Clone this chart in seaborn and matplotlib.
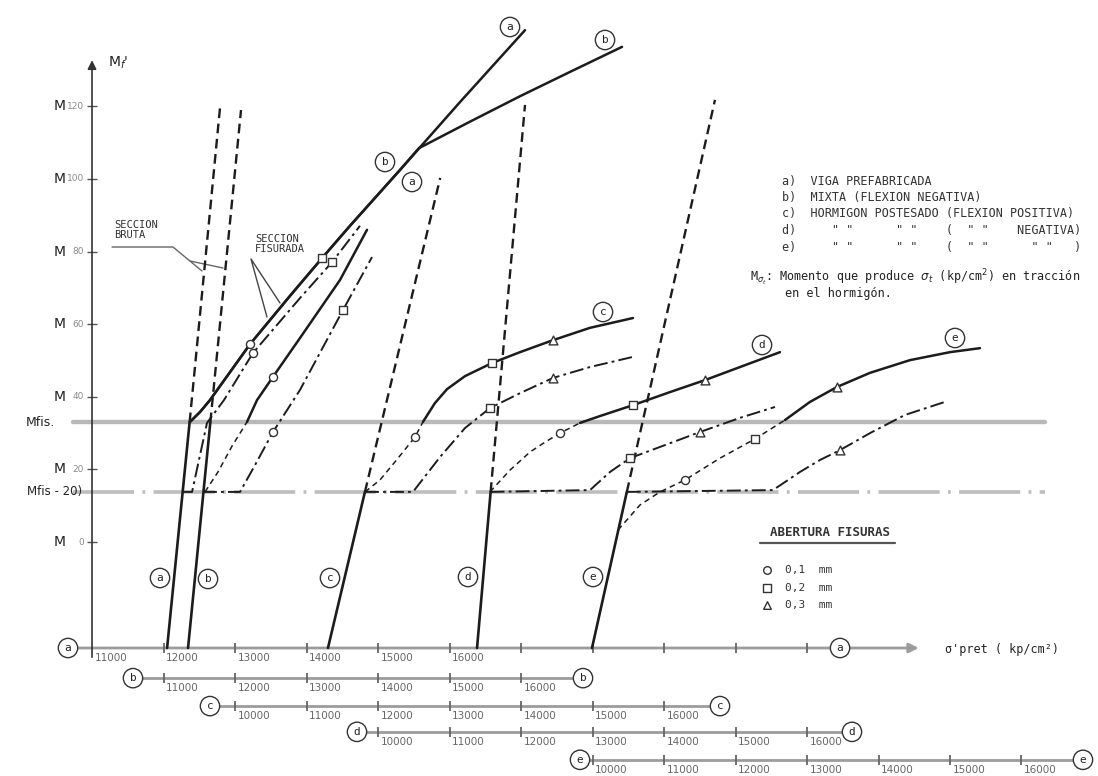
import numpy as np
import matplotlib
matplotlib.use("Agg")
import matplotlib.pyplot as plt
import seaborn as sns

sns.set_theme(style="white")
plt.rcParams["font.family"] = ["DejaVu Sans"]
plt.rcParams["lines.scale_dashes"] = False

# ---------------------------------------------------------------- data
# cracking-moment levels (units of M)
M_FIS = 33.0
M_FIS_20 = 13.8

# every beam type is read on its own prestress scale, shifted against scale a
SCALE_SHIFT = {"a": 0, "b": 1000, "c": 3000, "d": 5000, "e": 8000}
SCALE_ROW = {"a": -29.2, "b": -37.5, "c": -45.2, "d": -52.3, "e": -60.0}
SCALE_TICKS = {
    "a": [12000, 13000, 14000, 15000, 16000, 17000, 18000, 19000, 20000, 21000],
    "b": [11000, 12000, 13000, 14000, 15000, 16000],
    "c": [10000, 11000, 12000, 13000, 14000, 15000, 16000],
    "d": [10000, 11000, 12000, 13000, 14000, 15000, 16000],
    "e": [10000, 11000, 12000, 13000, 14000, 15000, 16000],
}
SCALE_LABELS = {
    "a": [11000, 12000, 13000, 14000, 15000, 16000],
    "b": [11000, 12000, 13000, 14000, 15000, 16000],
    "c": [10000, 11000, 12000, 13000, 14000, 15000, 16000],
    "d": [10000, 11000, 12000, 13000, 14000, 15000, 16000],
    "e": [10000, 11000, 12000, 13000, 14000, 15000, 16000],
}
SCALE_ENDS = {"a": (10664, 21462), "b": (10573, 16867), "c": (9650, 16783),
              "d": (9706, 16629), "e": (9825, 16860)}

M_TICKS = [120, 100, 80, 60, 40, 20, 0]

# uncracked (gross section) lines: start, cracking point, top
A_BRUTA_S = [12050, 12365, 12790]
A_BRUTA_M = [-29.2, 33.0, 119.6]
B_BRUTA_S = [11343, 11655, 12084]
B_BRUTA_M = [-29.2, 33.0, 119.0]
C_BRUTA_S = [11300, 11817, 12870]
C_BRUTA_M = [-29.2, 13.8, 100.3]
D_BRUTA_S = [11385, 11575, 12056]
D_BRUTA_M = [-29.2, 13.8, 120.4]
E_BRUTA_S = [9993, 10480, 11713]
E_BRUTA_M = [-29.2, 13.8, 121.8]

# cracked section after M_fis (solid)
A_FIS_S = [12371, 12510, 12650, 12930, 13210, 13769, 14217, 14608, 15308, 16147, 17056]
A_FIS_M = [33.1, 35.8, 39.1, 46.8, 54.5, 67.8, 78.2, 87.1, 102.5, 121.2, 141.0]
B_FIS_S = [11371, 11510, 11650, 11930, 12210, 12769, 13217, 13608, 14308, 14573, 15287,
           15986, 16685, 17413]
B_FIS_M = [33.1, 35.8, 39.1, 46.8, 54.5, 67.8, 78.2, 87.1, 102.5, 108.5, 115.8,
           122.8, 129.5, 136.4]
# cracked section after M_fis - 20 (dash-dot), with the jump at cracking
A_DD_S = [12259, 12399, 12608, 12846, 13252, 13909, 14357, 14748]
A_DD_M = [13.8, 13.8, 32.8, 39.1, 52.1, 67.2, 77.1, 87.1]
B_LEAD_S = [11580, 11762, 11958, 12168]
B_LEAD_M = [13.8, 19.3, 26.4, 33.1]
B_FIS20_S = [12168, 12308, 12531, 12909, 13469, 13846]
B_FIS20_M = [33.1, 39.1, 45.5, 56.2, 72.2, 86.0]
B_DD_S = [11552, 12070, 12280, 12531, 12909, 13510, 13916]
B_DD_M = [13.8, 13.8, 21.2, 30.3, 41.9, 63.9, 78.5]

C_LEAD_S = [11818, 12028, 12280, 12517, 12629]
C_LEAD_M = [13.8, 17.1, 23.1, 28.9, 33.1]
C_FIS_S = [12629, 12797, 12965, 13217, 13594, 13986, 14447, 14965, 15566]
C_FIS_M = [33.1, 38.3, 42.1, 45.7, 49.3, 52.3, 55.6, 59.0, 61.7]
C_DD_S = [11818, 12489, 12867, 13217, 13566, 13986, 14447, 14965, 15566]
C_DD_M = [13.8, 13.8, 23.4, 31.4, 36.9, 41.0, 45.2, 48.2, 51.0]

D_LEAD_S = [11566, 11846, 12126, 12336, 12545, 12825]
D_LEAD_M = [13.8, 19.8, 24.8, 27.5, 30.0, 32.8]
D_FIS_S = [12825, 13105, 13566, 14084, 14573, 15063, 15622]
D_FIS_M = [32.8, 34.7, 37.7, 41.3, 44.6, 48.2, 52.3]
D_DD_S = [11575, 12965, 13245, 13524, 14014, 14503, 15063, 15552]
D_DD_M = [13.8, 14.3, 19.3, 23.1, 26.7, 30.3, 34.2, 37.2]

E_LEAD_S = [10357, 10664, 10944, 11294, 11783, 12273, 12692]
E_LEAD_M = [3.3, 10.2, 13.8, 17.1, 23.1, 28.4, 33.6]
E_FIS_S = [12692, 13042, 13419, 13881, 14440, 15000, 15419]
E_FIS_M = [33.6, 38.6, 42.7, 46.6, 50.1, 52.3, 53.4]
E_DD_S = [10480, 12524, 12902, 13182, 13461, 13881, 14370, 14930]
E_DD_M = [13.8, 14.3, 19.3, 22.6, 25.3, 30.0, 35.0, 38.6]

# crack-width marks: (scale, sigma, M)
CRACK_01 = [("a", 13210, 54.5), ("a", 13252, 52.1), ("b", 12531, 45.5), ("b", 12531, 30.3),
            ("c", 12517, 28.9), ("d", 12545, 30.0), ("e", 11294, 17.1)]
CRACK_02 = [("a", 14217, 78.2), ("a", 14357, 77.1), ("b", 13510, 63.9), ("c", 13594, 49.3),
            ("c", 13566, 36.9), ("d", 13566, 37.7), ("d", 13524, 23.1), ("e", 12273, 28.4)]
CRACK_03 = [("c", 14447, 55.6), ("c", 14447, 45.2), ("d", 14573, 44.6), ("d", 14503, 30.3),
            ("e", 13419, 42.7), ("e", 13461, 25.3)]

LEYENDA = ["a)  VIGA PREFABRICADA",
           "b)  MIXTA (FLEXION NEGATIVA)",
           "c)  HORMIGON POSTESADO (FLEXION POSITIVA)"]
ABERTURAS = ["0,1  mm", "0,2  mm", "0,3  mm"]

# ---------------------------------------------------------------- figure
W, H = 1098, 776
fig = plt.figure(figsize=(W / 100, H / 100), dpi=100)
ax = fig.add_axes([0, 0, 1, 1])
ax.set_xlim(9713, 25070)
ax.set_ylim(-64.46, 149.31)
ax.axis("off")

INK = "#1c1c1c"
GREY = "#9c9c9c"
MONO = "DejaVu Sans Mono"


def P(x, y):
    """Image-pixel position (origin top left) as axes fraction."""
    return x / W, 1 - y / H


def curve(s, m, key, ls="-", lw=1.6, color=INK, z=4):
    sns.lineplot(x=np.asarray(s, float) + SCALE_SHIFT[key], y=m, sort=False,
                 estimator=None, ax=ax, color=color, linewidth=lw,
                 linestyle=ls, legend=False, zorder=z)


def circ(x, y, s, size=8):
    ax.text(*P(x, y), s, transform=ax.transAxes, ha="center", va="center",
            fontsize=size, color="#222", family=MONO, zorder=8,
            bbox=dict(boxstyle="circle,pad=0.42", fc="white", ec="#333", lw=1.0))


DASH = (0, (7, 4))
DASHDOT = (0, (10, 3, 2, 3))
LEAD = (0, (4, 3))

# reference moment lines
ax.axhline(M_FIS, xmin=73 / W, xmax=1045 / W, color="#b9b9b9", lw=3.2, zorder=1)
ax.axhline(M_FIS_20, xmin=73 / W, xmax=1045 / W, color="#bdbdbd", lw=2.6,
           linestyle=(0, (44, 6, 2, 6)), zorder=1)

# moment axis
ax.annotate("", xy=(11000, 133.5), xytext=(11000, -32.5),
            arrowprops=dict(arrowstyle="-|>", color="#333", lw=1.2, mutation_scale=13))
ax.plot([11000] * len(M_TICKS), M_TICKS, ls="none", marker="_", ms=7, mew=1.0, color="#555")
for m in M_TICKS:
    ax.annotate("M", xy=(66 / W, m), xycoords=("axes fraction", "data"), ha="right",
                va="center", fontsize=10, color="#222")
    ax.annotate(f"{m}", xy=(84 / W, m), xycoords=("axes fraction", "data"), ha="right",
                va="center", fontsize=6.5, color="#8a8a8a")
ax.annotate("Mfis.", xy=(55 / W, M_FIS), xycoords=("axes fraction", "data"), ha="right",
            va="center", fontsize=9, color="#222")
ax.annotate("Mfis - 20)", xy=(82 / W, M_FIS_20), xycoords=("axes fraction", "data"),
            ha="right", va="center", fontsize=8.5, color="#222")
ax.text(*P(108, 63), r"M$_{f}$'", transform=ax.transAxes, ha="left", va="center",
        fontsize=10, color="#222")

# prestress scales
for key in "abcde":
    row, sh = SCALE_ROW[key], SCALE_SHIFT[key]
    lo, hi = SCALE_ENDS[key]
    if key == "a":
        ax.annotate("", xy=(22600, row), xytext=(lo, row),
                    arrowprops=dict(arrowstyle="-|>", color=GREY, lw=2.0, mutation_scale=14),
                    zorder=1)
    else:
        ax.plot([lo + sh, hi + sh], [row, row], color=GREY, lw=2.0, zorder=1)
    t = np.asarray(SCALE_TICKS[key]) + sh
    ax.plot(t, [row] * len(t), ls="none", marker="|", ms=7, mew=1.3, color="#666", zorder=2)
    for v in SCALE_LABELS[key]:
        ax.annotate(f"{v}", (v + sh, row), xytext=(2, -3.5), textcoords="offset points",
                    ha="left", va="top", fontsize=7.5, color="#666")
    for s in (lo, hi):
        xf = ax.transAxes.inverted().transform(ax.transData.transform((s + sh, row)))
        ax.text(xf[0], xf[1], key, transform=ax.transAxes, ha="center", va="center",
                fontsize=8, color="#222", family=MONO, zorder=8,
                bbox=dict(boxstyle="circle,pad=0.42", fc="white", ec="#333", lw=1.0))
ax.text(*P(945, 650), "σ'pret ( kp/cm²)", transform=ax.transAxes, ha="left", va="center",
        fontsize=8.5, color="#222", family=MONO)

# gross-section lines: solid up to the cracking point, dashed above
for key, s, m in (("a", A_BRUTA_S, A_BRUTA_M), ("b", B_BRUTA_S, B_BRUTA_M),
                  ("c", C_BRUTA_S, C_BRUTA_M), ("d", D_BRUTA_S, D_BRUTA_M),
                  ("e", E_BRUTA_S, E_BRUTA_M)):
    curve(s[:2], m[:2], key, lw=1.9)
    curve(s[1:], m[1:], key, ls=DASH, lw=1.7)

# cracked-section curves
curve(A_FIS_S, A_FIS_M, "a", lw=1.8)
curve(B_FIS_S, B_FIS_M, "b", lw=1.8)
curve(A_DD_S, A_DD_M, "a", ls=DASHDOT, lw=1.4)
for key, ls_, ms_, fs_, fm_, ds_, dm_ in (
        ("b", B_LEAD_S, B_LEAD_M, B_FIS20_S, B_FIS20_M, B_DD_S, B_DD_M),
        ("c", C_LEAD_S, C_LEAD_M, C_FIS_S, C_FIS_M, C_DD_S, C_DD_M),
        ("d", D_LEAD_S, D_LEAD_M, D_FIS_S, D_FIS_M, D_DD_S, D_DD_M),
        ("e", E_LEAD_S, E_LEAD_M, E_FIS_S, E_FIS_M, E_DD_S, E_DD_M)):
    curve(ls_, ms_, key, ls=LEAD, lw=1.1)
    curve(fs_, fm_, key, lw=1.8)
    curve(ds_, dm_, key, ls=DASHDOT, lw=1.4)

# crack-width marks
for marks, mk, sz in ((CRACK_01, "o", 34), (CRACK_02, "s", 34), (CRACK_03, "^", 40)):
    xs = [s + SCALE_SHIFT[k] for k, s, _ in marks]
    ys = [m for _, _, m in marks]
    sns.scatterplot(x=xs, y=ys, marker=mk, s=sz, facecolor="white", edgecolor="#333",
                    linewidth=1.0, ax=ax, zorder=6, legend=False)

# curve tags
for x, y, s in ((160, 578, "a"), (208, 579, "b"), (330, 578, "c"), (468, 577, "d"),
                (593, 577, "e"), (510, 27, "a"), (605, 40, "b"), (385, 162, "b"),
                (412, 182, "a"), (603, 312, "c"), (762, 345, "d"), (955, 338, "e")):
    circ(x, y, s)

# section call-outs
ax.text(*P(114, 230), "SECCION\nBRUTA", transform=ax.transAxes, ha="left", va="center",
        fontsize=7.5, color="#333", family=MONO, linespacing=1.05)
ax.plot(*zip(P(112, 247), P(173, 247), P(202, 271)), transform=ax.transAxes, color="#666", lw=1.0)
ax.plot(*zip(P(190, 261), P(223, 268)), transform=ax.transAxes, color="#666", lw=1.0)
ax.text(*P(255, 244), "SECCION\nFISURADA", transform=ax.transAxes, ha="left", va="center",
        fontsize=7.5, color="#333", family=MONO, linespacing=1.05)
ax.plot(*zip(P(267, 317), P(251, 259), P(280, 303)), transform=ax.transAxes, color="#444", lw=1.0)

# type key
for i, line in enumerate(LEYENDA):
    ax.text(*P(782, 181 + 16.5 * i), line, transform=ax.transAxes, ha="left", va="center",
            fontsize=8.5, color="#333", family=MONO)


def ditto_row(tag, slots, tail=None):
    chars = [" "] * 42
    chars[0], chars[1] = tag, ")"
    for k in slots:
        chars[k] = '"'
    chars[23] = "("
    s = "".join(chars)
    if tail:
        s = s[:33] + tail
    return s


ax.text(*P(782, 230.5), ditto_row("d", [7, 9, 16, 18, 26, 28], "NEGATIVA)"),
        transform=ax.transAxes, ha="left", va="center", fontsize=8.5, color="#333", family=MONO)
ax.text(*P(782, 247), ditto_row("e", [7, 9, 16, 18, 26, 28, 35, 37]).rstrip() + "   )",
        transform=ax.transAxes, ha="left", va="center", fontsize=8.5, color="#333", family=MONO)
ax.text(*P(750, 278), r"M$_{\sigma_t}$: Momento que produce $\sigma_t$ (kp/cm$^2$) en tracción",
        transform=ax.transAxes, ha="left", va="center", fontsize=8.5, color="#222", family=MONO)
ax.text(*P(785, 294), "en el hormigón.", transform=ax.transAxes, ha="left", va="center",
        fontsize=8.5, color="#222", family=MONO)

# crack-width key
ax.text(*P(770, 533), "ABERTURA FISURAS", transform=ax.transAxes, ha="left", va="center",
        fontsize=9, color="#333", family=MONO, fontweight="bold")
ax.plot(*zip(P(760, 543), P(895, 543)), transform=ax.transAxes, color="#555", lw=1.6)
for i, (mk, lab) in enumerate(zip(("o", "s", "^"), ABERTURAS)):
    ax.scatter(*P(767, 570 + 17.5 * i), marker=mk, s=30, facecolor="white", edgecolor="#333",
               linewidth=1.0, transform=ax.transAxes, zorder=6)
    ax.text(*P(785, 570 + 17.5 * i), lab, transform=ax.transAxes, ha="left", va="center",
            fontsize=8, color="#333", family=MONO)

fig.savefig("out.png", dpi=100, facecolor="white")
